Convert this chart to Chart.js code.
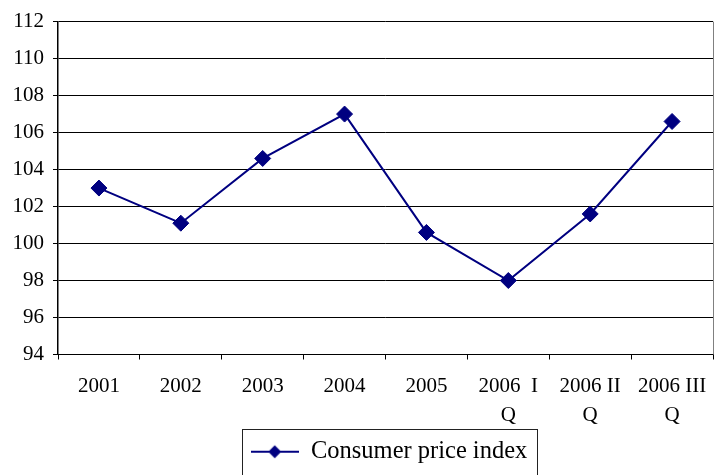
<!DOCTYPE html>
<html><head><meta charset="utf-8">
<script src="https://cdn.jsdelivr.net/npm/chart.js@4.4.1/dist/chart.umd.min.js"></script>
<style>html,body{margin:0;padding:0;background:#fff;overflow:hidden}</style>
</head><body>
<canvas id="c" width="722" height="475"></canvas>
<script>
// ---- data ----
const categories = ["2001", "2002", "2003", "2004", "2005", ["2006  I", "Q"], ["2006 II", "Q"], ["2006 III", "Q"]];
const seriesName = "Consumer price index";
const cpiValues = [103.0, 101.1, 104.6, 107.0, 100.6, 98.0, 101.6, 106.6];
const yAxisMin = 94;
const yAxisMax = 112;
const yAxisStep = 2;

// ---- styles ----
const FONT = "'Liberation Serif', 'Times New Roman', serif";
const NAVY = "#000080";

function makeLegendMarker() {
  const cv = document.createElement('canvas');
  cv.width = 48; cv.height = 16;
  const g = cv.getContext('2d');
  g.strokeStyle = NAVY; g.lineWidth = 2;
  g.beginPath(); g.moveTo(0, 8); g.lineTo(48, 8); g.stroke();
  g.fillStyle = NAVY;
  g.beginPath(); g.moveTo(24, 1.5); g.lineTo(30.5, 8); g.lineTo(24, 14.5); g.lineTo(17.5, 8); g.closePath(); g.fill();
  return cv;
}
const legendMarker = makeLegendMarker();

const framePlugin = {
  id: 'frame',
  afterLayout(chart) {
    const lg = chart.legend;
    if (lg) { lg.left = chart.chartArea.left + 7; lg.right = chart.chartArea.right; }
  },
  afterDraw(chart) {
    const ctx = chart.ctx, a = chart.chartArea;
    ctx.save();
    ctx.strokeStyle = '#808080'; ctx.lineWidth = 1;
    ctx.beginPath(); ctx.moveTo(Math.round(a.right) + 0.5, a.top); ctx.lineTo(Math.round(a.right) + 0.5, a.bottom); ctx.stroke();
    const lg = chart.legend;
    ctx.font = "24.5px " + FONT;
    const tw = ctx.measureText(seriesName).width;
    const itemW = 48 + 12 + tw;
    const cx = (lg.left + lg.right) / 2;
    const x0 = Math.round(cx - itemW / 2 - 9) + 0.5;
    const x1 = Math.round(cx + itemW / 2 + 10) + 0.5;
    const y0 = Math.round(lg.top - 1) + 0.5;
    const y1 = Math.round(lg.bottom + 6) + 0.5;
    ctx.strokeStyle = '#222'; ctx.lineWidth = 1;
    ctx.strokeRect(x0, y0, x1 - x0, y1 - y0);
    ctx.restore();
  }
};

new Chart(document.getElementById('c'), {
  type: 'line',
  data: {
    labels: categories,
    datasets: [{
      label: seriesName,
      data: cpiValues,
      borderColor: NAVY,
      backgroundColor: NAVY,
      borderWidth: 2,
      pointStyle: 'rectRot',
      pointRadius: 8,
      pointHoverRadius: 8,
      pointBackgroundColor: NAVY,
      pointBorderColor: NAVY,
      pointBorderWidth: 1,
      tension: 0,
      fill: false
    }]
  },
  options: {
    responsive: false,
    devicePixelRatio: 1,
    animation: false,
    events: [],
    layout: { padding: { top: 17, right: 7, bottom: 1, left: 0 } },
    plugins: {
      tooltip: { enabled: false },
      legend: {
        display: true,
        position: 'bottom',
        labels: {
          font: { family: FONT, size: 24.5 },
          color: '#000',
          usePointStyle: true,
          pointStyleWidth: 48,
          padding: 10,
          generateLabels: () => [{
            text: seriesName, pointStyle: legendMarker, fillStyle: NAVY,
            strokeStyle: NAVY, lineWidth: 0, hidden: false, datasetIndex: 0, fontColor: '#000'
          }]
        }
      }
    },
    scales: {
      x: {
        type: 'category',
        offset: true,
        grid: { offset: true, drawOnChartArea: false, drawTicks: true, tickLength: 5, color: '#000', lineWidth: 1 },
        border: { display: true, color: '#000', width: 1 },
        ticks: { font: { family: FONT, size: 21, lineHeight: 1.4 }, color: '#000', padding: 12, maxRotation: 0, minRotation: 0, autoSkip: false },
        afterFit(s) { s.height = 75; }
      },
      y: {
        min: yAxisMin,
        max: yAxisMax,
        ticks: { stepSize: yAxisStep, font: { family: FONT, size: 21 }, color: '#000', padding: 9 },
        grid: { color: '#000', lineWidth: 1, drawTicks: true, tickLength: 5 },
        border: { display: true, color: '#000', width: 1.5 },
        afterFit(s) { s.width = 58; }
      }
    }
  },
  plugins: [framePlugin]
});
</script>
</body></html>
